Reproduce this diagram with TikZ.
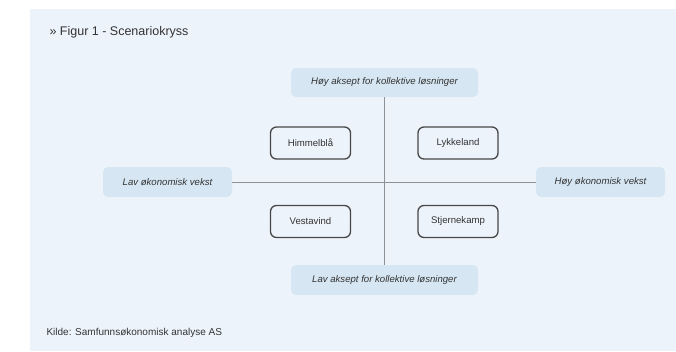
\documentclass[tikz,border=0pt]{standalone}
\usepackage{fontspec}
\setmainfont{Liberation Sans}
\definecolor{panelbg}{HTML}{EDF3FB}
\definecolor{axisfill}{HTML}{D6E7F3}
\definecolor{axisline}{HTML}{8E9296}
\definecolor{textdark}{HTML}{333333}
\definecolor{boxline}{HTML}{474747}
\tikzset{
  axislabel/.style={fill=axisfill,rounded corners=5pt,inner sep=0pt,
    text=textdark,font=\fontsize{9.6}{11}\selectfont\itshape},
  scenario/.style={draw=boxline,line width=1.3pt,rounded corners=6pt,
    inner sep=0pt,minimum width=80pt,minimum height=32pt,
    text=textdark,font=\fontsize{9.6}{11}\selectfont},
}
\begin{document}
\begin{tikzpicture}[x=1pt,y=-1pt]
\useasboundingbox (0,0) rectangle (676,351);
\fill[panelbg] (30,9) rectangle (676,351);
\node[anchor=west,text=textdark,font=\fontsize{12.5}{14}\selectfont] (title) at (46,32) {» Figur 1 - Scenariokryss};
\node[axislabel,minimum width=187pt,minimum height=29pt] (top) at (384.5,82.5) {Høy aksept for kollektive løsninger};
\node[axislabel,minimum width=187pt,minimum height=30pt] (bottom) at (384.5,280) {Lav aksept for kollektive løsninger};
\node[axislabel,minimum width=129pt,minimum height=30pt] (left) at (167.5,182) {Lav økonomisk vekst};
\node[axislabel,minimum width=129pt,minimum height=30pt] (right) at (600.5,182) {Høy økonomisk vekst};
\draw[axisline,line width=0.9pt] (top.south) -- (bottom.north);
\draw[axisline,line width=0.9pt] (left.east) -- (right.west);
\node[scenario] (himmelbla) at (310.5,143) {Himmelblå};
\node[scenario] (lykkeland) at (458,143) {Lykkeland};
\node[scenario] (vestavind) at (310.5,221.5) {Vestavind};
\node[scenario] (stjernekamp) at (458,221.5) {Stjernekamp};
\node[anchor=west,text=textdark,font=\fontsize{10}{12}\selectfont] (source) at (43,333) {Kilde: Samfunnsøkonomisk analyse AS};
\end{tikzpicture}
\end{document}
